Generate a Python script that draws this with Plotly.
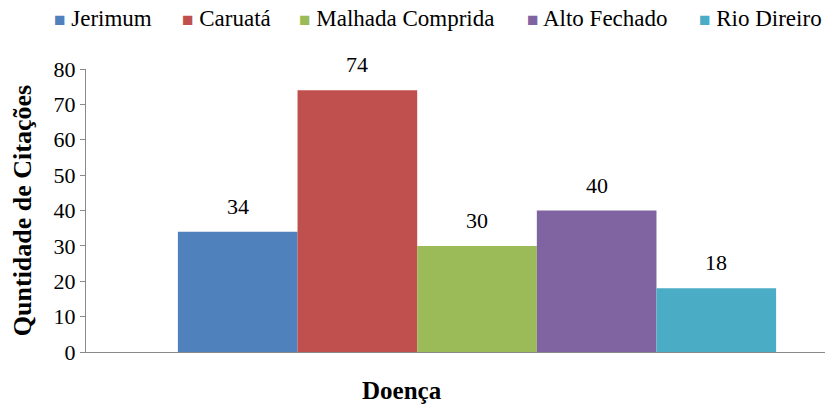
import plotly.graph_objects as go

series = ["Jerimum", "Caruatá", "Malhada Comprida", "Alto Fechado", "Rio Direiro"]
values = [34, 74, 30, 40, 18]
colors = ["#4F81BD", "#C0504D", "#9BBB59", "#8064A2", "#4BACC6"]
y_ticks = [0, 10, 20, 30, 40, 50, 60, 70, 80]

# legend entry left edges (paper fraction) - layout only
legend_x = [-0.046, 0.127, 0.2855, 0.594, 0.827]

FONT = "Times New Roman, Liberation Serif, serif"
bar_w = 0.153
n = len(series)

fig = go.Figure()
annotations = []
for i, (name, v, c) in enumerate(zip(series, values, colors)):
    off = -n / 2 * bar_w + i * bar_w
    fig.add_trace(go.Bar(
        x=[0], y=[v], name=name, width=bar_w, offset=off,
        marker=dict(color=c, line=dict(width=0)),
        showlegend=False,
    ))
    annotations.append(dict(
        x=off + bar_w / 2, y=v, xref="x", yref="y", text=str(v),
        showarrow=False, yanchor="bottom", yshift=11,
        font=dict(family=FONT, size=22, color="#000000"),
    ))
    annotations.append(dict(
        x=legend_x[i], y=1.18, xref="paper", yref="paper",
        text=f'<span style="color:{c}; font-size:19px">■</span> {name}',
        showarrow=False, xanchor="left", yanchor="middle",
        font=dict(family=FONT, size=23, color="#000000"),
    ))

annotations.append(dict(
    x=0.428, y=-0.135, xref="paper", yref="paper", text="<b>Doença</b>",
    showarrow=False, xanchor="center", yanchor="middle",
    font=dict(family=FONT, size=25, color="#000000"),
))

fig.update_layout(
    width=825, height=407,
    margin=dict(l=86, r=0, t=69, b=55, autoexpand=False),
    paper_bgcolor="white", plot_bgcolor="white",
    barmode="overlay",
    font=dict(family=FONT, size=22, color="#000000"),
    showlegend=False,
    xaxis=dict(
        range=[-0.5, 0.445], showticklabels=False, showgrid=False,
        zeroline=False, showline=True, linecolor="#898989", linewidth=1,
        ticks="", fixedrange=True,
    ),
    yaxis=dict(
        range=[0, 80], tickvals=y_ticks, showgrid=False, zeroline=False,
        showline=True, linecolor="#898989", linewidth=1,
        ticks="outside", ticklen=5, tickcolor="#898989",
        tickfont=dict(family=FONT, size=22, color="#000000"),
        title=dict(text="<b>Quntidade de Citações</b>", standoff=14,
                   font=dict(family=FONT, size=26, color="#000000")),
    ),
    annotations=annotations,
)

fig.write_html("out.html")
